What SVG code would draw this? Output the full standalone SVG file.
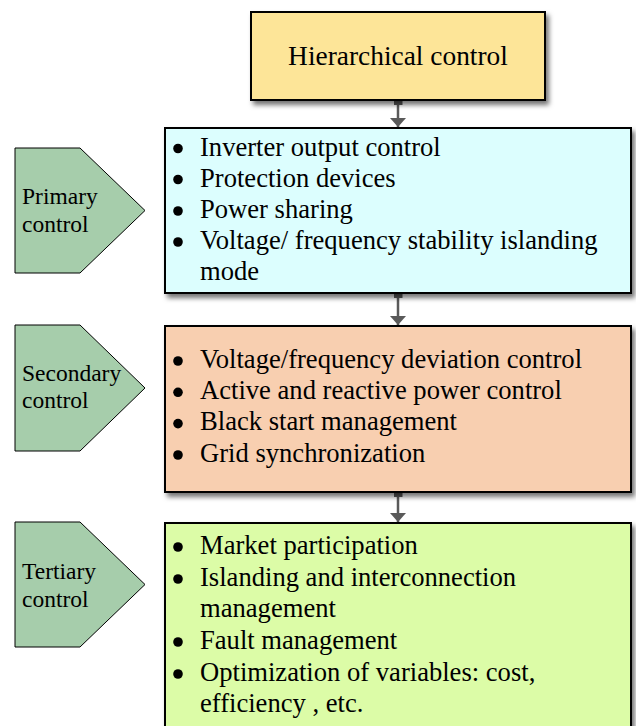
<svg xmlns="http://www.w3.org/2000/svg" width="636" height="726" viewBox="0 0 636 726">
  <defs>
    <filter id="shadow" x="-10%" y="-10%" width="130%" height="130%">
      <feDropShadow dx="3" dy="4" stdDeviation="2.5" flood-color="#000" flood-opacity="0.55"/>
    </filter>
    <marker id="head" viewBox="0 0 9 16" refX="9" refY="8" markerWidth="9" markerHeight="16" markerUnits="userSpaceOnUse" orient="auto">
      <path d="M0,0 L9,8 L0,16 Z" fill="#5a5a5a"/>
    </marker>
    <marker id="tail" viewBox="0 0 8 9" refX="1" refY="4.5" markerWidth="8" markerHeight="9" markerUnits="userSpaceOnUse" orient="auto">
      <rect x="0" y="0" width="8" height="9" fill="#5a5a5a"/>
    </marker>
  </defs>
  <style>
    .box { stroke: #000; stroke-width: 2; filter: url(#shadow); }
    .tag { fill: #a6cdab; stroke: #000; stroke-width: 1; }
    .txt { font-family: "Liberation Serif", "Times New Roman", serif; font-size: 26.6px; fill: #000; }
    .title { font-size: 27.4px; }
    .lbl { font-family: "Liberation Serif", "Times New Roman", serif; font-size: 23.5px; fill: #000; }
    .dot { fill: #000; }
    .link { stroke: #5a5a5a; stroke-width: 2.5; fill: none; marker-start: url(#tail); marker-end: url(#head); }
  </style>

  <!-- connectors -->
  <g id="connectors">
    <path class="link" d="M398,98 L398,127"/>
    <path class="link" d="M398,291 L398,325"/>
    <path class="link" d="M398,490 L398,522"/>
  </g>

  <!-- top node -->
  <g id="hierarchical">
    <rect class="box" x="251" y="12" width="294" height="88" fill="#fde598"/>
    <text class="txt title" x="398" y="64.5" text-anchor="middle">Hierarchical control</text>
  </g>

  <!-- primary level -->
  <g id="primary-tag">
    <path class="tag" d="M15,148 L80,148 L145,210.5 L80,273 L15,273 Z"/>
    <text class="lbl" x="22" y="204">Primary</text>
    <text class="lbl" x="22" y="232">control</text>
  </g>
  <g id="primary">
    <rect class="box" x="165" y="128" width="466" height="165" fill="#dcfefe"/>
    <circle class="dot" cx="178" cy="148.5" r="4.8"/>
    <circle class="dot" cx="178" cy="179.5" r="4.8"/>
    <circle class="dot" cx="178" cy="211" r="4.8"/>
    <circle class="dot" cx="178" cy="242" r="4.8"/>
    <text class="txt" x="200" y="155.5">Inverter output control</text>
    <text class="txt" x="200" y="186.5">Protection devices</text>
    <text class="txt" x="200" y="217.5">Power sharing</text>
    <text class="txt" x="200" y="248.5">Voltage/ frequency stability islanding</text>
    <text class="txt" x="200" y="279.5">mode</text>
  </g>

  <!-- secondary level -->
  <g id="secondary-tag">
    <path class="tag" d="M15,325 L80,325 L145,388 L80,451 L15,451 Z"/>
    <text class="lbl" x="22" y="381">Secondary</text>
    <text class="lbl" x="22" y="408">control</text>
  </g>
  <g id="secondary">
    <rect class="box" x="165" y="326" width="466" height="166" fill="#f8cfb0"/>
    <circle class="dot" cx="178" cy="361" r="4.8"/>
    <circle class="dot" cx="178" cy="392.3" r="4.8"/>
    <circle class="dot" cx="178" cy="423.6" r="4.8"/>
    <circle class="dot" cx="178" cy="455" r="4.8"/>
    <text class="txt" x="200" y="367.5">Voltage/frequency deviation control</text>
    <text class="txt" x="200" y="398.8">Active and reactive power control</text>
    <text class="txt" x="200" y="430">Black start management</text>
    <text class="txt" x="200" y="461.5">Grid synchronization</text>
  </g>

  <!-- tertiary level -->
  <g id="tertiary-tag">
    <path class="tag" d="M15,522 L80,522 L145,584.5 L80,647 L15,647 Z"/>
    <text class="lbl" x="22" y="579">Tertiary</text>
    <text class="lbl" x="22" y="607">control</text>
  </g>
  <g id="tertiary">
    <rect class="box" x="165" y="523" width="466" height="230" fill="#dcfca7"/>
    <circle class="dot" cx="178" cy="547" r="4.8"/>
    <circle class="dot" cx="178" cy="579" r="4.8"/>
    <circle class="dot" cx="178" cy="642" r="4.8"/>
    <circle class="dot" cx="178" cy="674" r="4.8"/>
    <text class="txt" x="200" y="553.5">Market participation</text>
    <text class="txt" x="200" y="585.5">Islanding and interconnection</text>
    <text class="txt" x="200" y="617">management</text>
    <text class="txt" x="200" y="648.5">Fault management</text>
    <text class="txt" x="200" y="680.5">Optimization of variables: cost,</text>
    <text class="txt" x="200" y="712">efficiency , etc.</text>
  </g>
</svg>
